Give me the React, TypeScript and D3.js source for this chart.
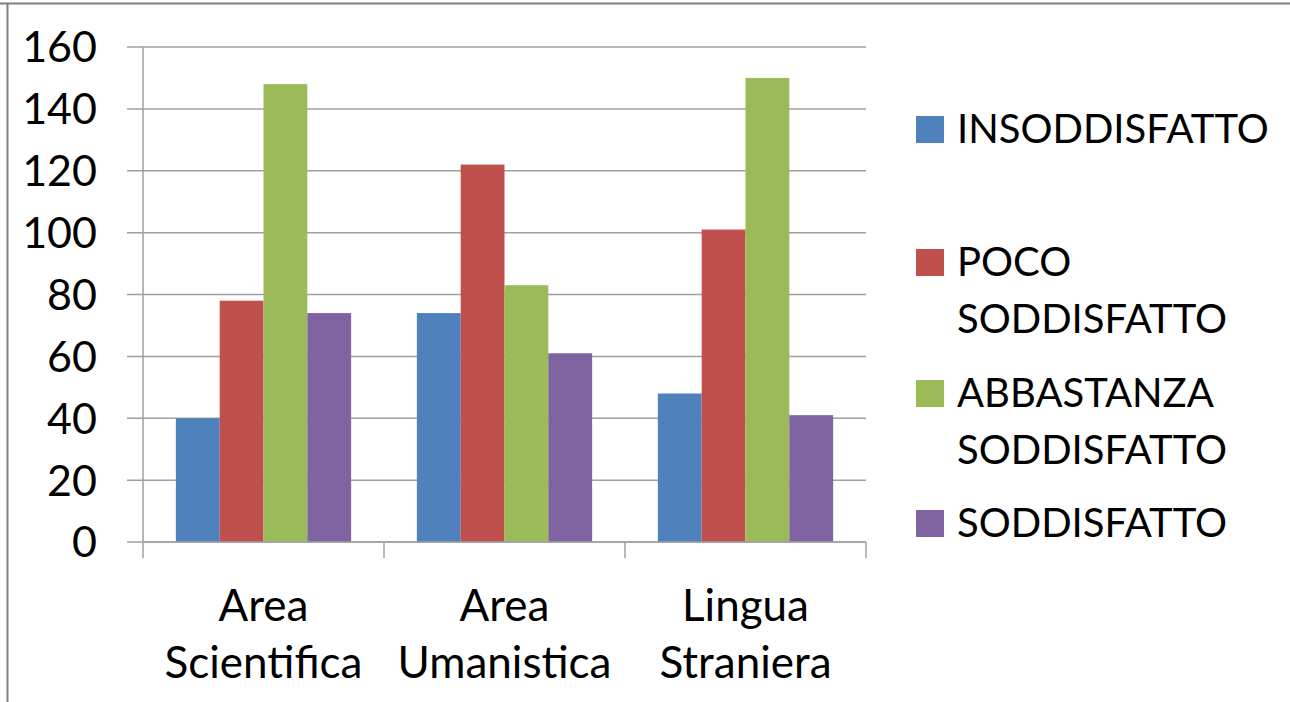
import React, { useEffect, useRef } from 'react';
import * as d3 from 'd3';

const categories = [['Area', 'Scientifica'], ['Area', 'Umanistica'], ['Lingua', 'Straniera']];
const seriesNames = [['INSODDISFATTO'], ['POCO', 'SODDISFATTO'], ['ABBASTANZA', 'SODDISFATTO'], ['SODDISFATTO']];
const seriesColors = ['#4f81bd', '#c0504d', '#9bbb59', '#8064a2'];
const values = [
  [40, 74, 48],
  [78, 122, 101],
  [148, 83, 150],
  [74, 61, 41],
];
const yTicks = [0, 20, 40, 60, 80, 100, 120, 140, 160];

const W = 1290;
const H = 702;
const FONT = 'Lato, "Open Sans", sans-serif';

const App: React.FC = () => {
  const svgRef = useRef<SVGSVGElement>(null);

  useEffect(() => {
    if (!svgRef.current) return;
    const svg = d3.select(svgRef.current);
    svg.selectAll('*').remove();

    const left = 143, right = 866, top = 47, bottom = 542;

    // page border
    svg.append('line').attr('x1', 0).attr('x2', W).attr('y1', 3.5).attr('y2', 3.5)
      .attr('stroke', '#808080').attr('stroke-width', 2);
    svg.append('line').attr('x1', 7.5).attr('x2', 7.5).attr('y1', 3).attr('y2', H)
      .attr('stroke', '#808080').attr('stroke-width', 2);

    const y = d3.scaleLinear().domain([0, 160]).range([bottom, top]);
    const x0 = d3.scaleBand<number>().domain(d3.range(categories.length)).range([left, right]).paddingInner(0).paddingOuter(0);
    const inner = d3.scaleBand<number>().domain(d3.range(seriesNames.length))
      .range([0, x0.bandwidth()]).paddingOuter(0.75).paddingInner(0);

    // gridlines
    svg.append('g').selectAll('line').data(yTicks).enter().append('line')
      .attr('x1', left - 16).attr('x2', right)
      .attr('y1', d => y(d)).attr('y2', d => y(d))
      .attr('stroke', '#a0a0a0').attr('stroke-width', 1.5);

    // y tick labels
    svg.append('g').selectAll('text').data(yTicks).enter().append('text')
      .attr('x', 97).attr('y', d => y(d)).attr('dy', '0.36em')
      .attr('text-anchor', 'end').attr('font-family', FONT).attr('font-size', 43)
      .attr('fill', '#000').text(d => d);

    // bars
    values.forEach((row, s) => {
      svg.append('g').selectAll('rect').data(row).enter().append('rect')
        .attr('x', (_, i) => (x0(i) as number) + (inner(s) as number))
        .attr('y', d => y(d))
        .attr('width', inner.bandwidth())
        .attr('height', d => bottom - y(d))
        .attr('fill', seriesColors[s]);
    });

    // axes
    svg.append('line').attr('x1', left).attr('x2', left).attr('y1', top).attr('y2', bottom)
      .attr('stroke', '#a0a0a0').attr('stroke-width', 1.5);
    svg.append('line').attr('x1', left).attr('x2', right).attr('y1', bottom).attr('y2', bottom)
      .attr('stroke', '#a0a0a0').attr('stroke-width', 1.5);
    const bounds = [...d3.range(categories.length).map(i => x0(i) as number), right];
    svg.append('g').selectAll('line').data(bounds).enter().append('line')
      .attr('x1', d => d).attr('x2', d => d).attr('y1', bottom).attr('y2', bottom + 16)
      .attr('stroke', '#a0a0a0').attr('stroke-width', 1.5);

    // category labels
    categories.forEach((lines, i) => {
      const cx = (x0(i) as number) + x0.bandwidth() / 2;
      lines.forEach((t, j) => {
        svg.append('text').attr('x', cx).attr('y', 605 + j * 57).attr('dy', '0.36em')
          .attr('text-anchor', 'middle').attr('font-family', FONT).attr('font-size', 44)
          .attr('fill', '#000').text(t);
      });
    });

    // legend
    const legendY = [129, 262, 393, 523];
    seriesNames.forEach((lines, s) => {
      svg.append('rect').attr('x', 916).attr('y', legendY[s] - 13).attr('width', 28).attr('height', 27)
        .attr('fill', seriesColors[s]);
      lines.forEach((t, j) => {
        svg.append('text').attr('x', 957).attr('y', legendY[s] + j * 57).attr('dy', '0.36em')
          .attr('font-family', FONT).attr('font-size', 40).attr('fill', '#000').text(t);
      });
    });
  }, []);

  return (
    <svg ref={svgRef} width={W} height={H}
      style={{ position: 'absolute', left: 0, top: 0, background: '#fff' }} />
  );
};

export default App;
